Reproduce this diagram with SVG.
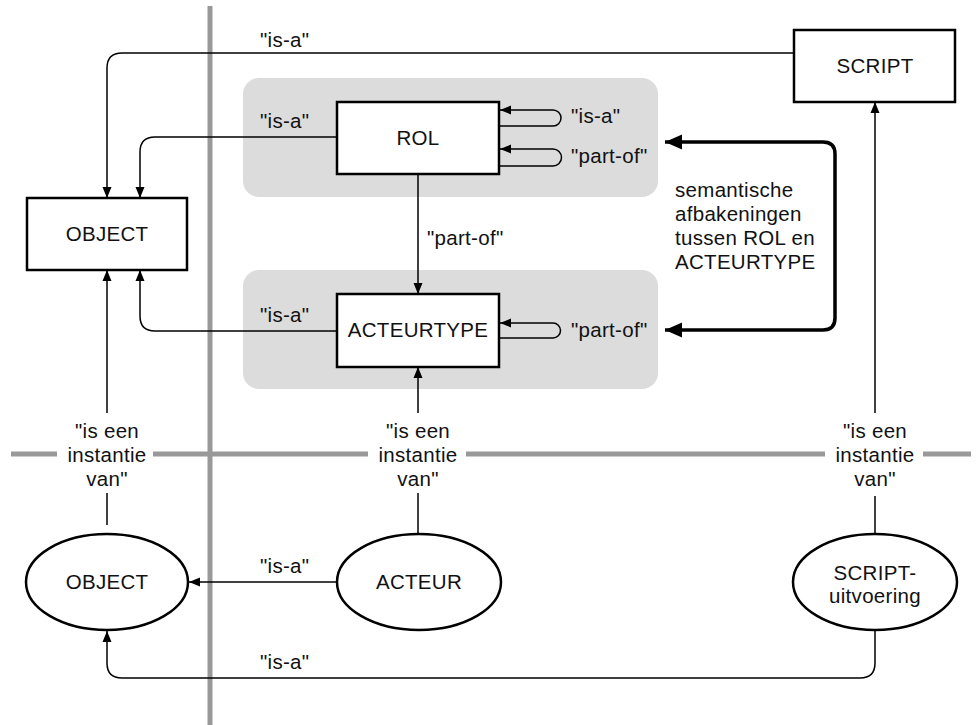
<svg xmlns="http://www.w3.org/2000/svg" width="977" height="725" viewBox="0 0 977 725">
<defs>
<style>
text{font-family:"Liberation Sans",Arial,sans-serif;font-size:20.5px;letter-spacing:0.3px;fill:#111}
.c{text-anchor:middle}
.node{fill:#fff;stroke:#000;stroke-width:2.5}
.grp{fill:#dcdcdc}
.div{stroke:#999;stroke-width:5;fill:none}
.ln{fill:none;stroke:#000;stroke-width:1.5}
.thick{fill:none;stroke:#000;stroke-width:3.5}
</style>
<marker id="a" markerUnits="userSpaceOnUse" markerWidth="12" markerHeight="10" refX="11" refY="5" orient="auto">
<path d="M0,0.5 L11,5 L0,9.5 z" fill="#000"/>
</marker>
<marker id="b" markerUnits="userSpaceOnUse" markerWidth="18" markerHeight="16" refX="17" refY="8" orient="auto-start-reverse">
<path d="M0,0.5 L17,8 L0,15.5 z" fill="#000"/>
</marker>
</defs>

<g id="background">
<rect class="grp" x="243" y="78" width="415" height="119" rx="16"/>
<rect class="grp" x="243" y="270" width="415" height="119" rx="16"/>
<path class="div" d="M210,6 V725"/>
<path class="div" d="M11,454 H57 M153,454 H368 M466,454 H825 M923,454 H971"/>
</g>

<g id="connectors">
<path class="ln" d="M794,53 H122 Q107,53 107,68 V198" marker-end="url(#a)"/>
<path class="ln" d="M337,137 H155 Q140,137 140,152 V198" marker-end="url(#a)"/>
<path class="ln" d="M337,331 H155 Q140,331 140,316 V270" marker-end="url(#a)"/>
<path class="ln" d="M418,174 V294" marker-end="url(#a)"/>
<path class="ln" d="M499,126 H553 A8,8 0 0 0 553,110 H500" marker-end="url(#a)"/>
<path class="ln" d="M499,166 H553 A8.5,8.5 0 0 0 553,149 H500" marker-end="url(#a)"/>
<path class="ln" d="M499,338 H553 A7.5,7.5 0 0 0 553,323 H500" marker-end="url(#a)"/>
<path class="thick" d="M665,142 H823 Q835,142 835,154 V318 Q835,330 823,330 H665" marker-start="url(#b)" marker-end="url(#b)"/>
<path class="ln" d="M107,413 V270" marker-end="url(#a)"/>
<path class="ln" d="M107,493 V525"/>
<path class="ln" d="M418,413 V367" marker-end="url(#a)"/>
<path class="ln" d="M418,493 V534"/>
<path class="ln" d="M875,413 V102" marker-end="url(#a)"/>
<path class="ln" d="M875,496 V534"/>
<path class="ln" d="M337,582 H189" marker-end="url(#a)"/>
<path class="ln" d="M875,630 V663 Q875,678 860,678 H122 Q107,678 107,663 V631" marker-end="url(#a)"/>
</g>

<g id="labels">
<text x="260" y="47">"is-a"</text>
<text x="260" y="128">"is-a"</text>
<text x="260" y="322">"is-a"</text>
<text x="260" y="573">"is-a"</text>
<text x="260" y="669">"is-a"</text>
<text x="571" y="123">"is-a"</text>
<text x="571" y="163">"part-of"</text>
<text x="571" y="337">"part-of"</text>
<text x="427" y="245">"part-of"</text>
<text x="675" y="197">semantische</text>
<text x="675" y="221">afbakeningen</text>
<text x="675" y="245">tussen ROL en</text>
<text x="675" y="269">ACTEURTYPE</text>
<text class="c" x="107" y="438">"is een</text>
<text class="c" x="107" y="462">instantie</text>
<text class="c" x="107" y="486">van"</text>
<text class="c" x="418" y="438">"is een</text>
<text class="c" x="418" y="462">instantie</text>
<text class="c" x="418" y="486">van"</text>
<text class="c" x="875" y="438">"is een</text>
<text class="c" x="875" y="462">instantie</text>
<text class="c" x="875" y="486">van"</text>
</g>

<g id="OBJECT">
<rect class="node" x="27" y="198" width="160" height="72"/>
<text class="c" x="107" y="241">OBJECT</text>
</g>
<g id="ROL">
<rect class="node" x="337" y="102" width="162" height="72"/>
<text class="c" x="418" y="145">ROL</text>
</g>
<g id="ACTEURTYPE">
<rect class="node" x="337" y="294" width="162" height="73"/>
<text class="c" x="418" y="337">ACTEURTYPE</text>
</g>
<g id="SCRIPT">
<rect class="node" x="794" y="30" width="161" height="72"/>
<text class="c" x="875" y="73">SCRIPT</text>
</g>
<g id="OBJECT-instance">
<ellipse class="node" cx="107" cy="582" rx="81" ry="48"/>
<text class="c" x="107" y="589">OBJECT</text>
</g>
<g id="ACTEUR">
<ellipse class="node" cx="419" cy="582" rx="82" ry="48"/>
<text class="c" x="419" y="589">ACTEUR</text>
</g>
<g id="SCRIPT-uitvoering">
<ellipse class="node" cx="875" cy="582" rx="82" ry="48"/>
<text class="c" x="875" y="580">SCRIPT-</text>
<text class="c" x="875" y="603">uitvoering</text>
</g>
</svg>
